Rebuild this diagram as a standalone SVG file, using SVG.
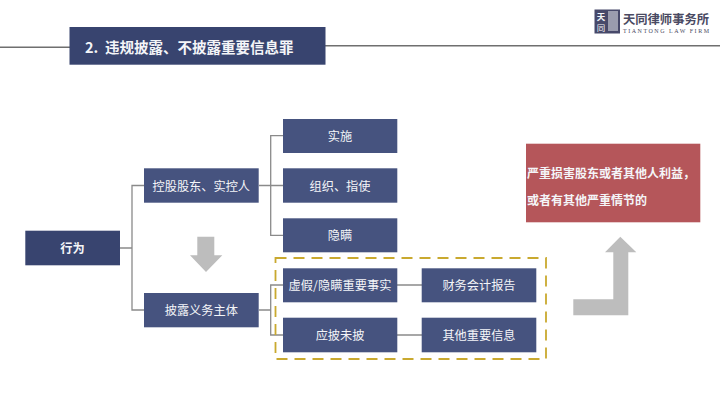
<svg xmlns="http://www.w3.org/2000/svg" width="720" height="405" viewBox="0 0 720 405">
<style>
text{font-family:"Noto Sans CJK SC","Noto Sans",sans-serif;fill:#f4f5f8;text-anchor:middle;dominant-baseline:central}
.n{fill:#46537f}
.d{fill:#38446f}
.t{font-size:12.2px}
.c{fill:none;stroke:#8a8a8a;stroke-width:1.3}
.a{fill:#bdbdbd}
</style>
<rect width="720" height="405" fill="#fff"/>
<path d="M0 47.2H70M325 45.8H720" fill="none" stroke="#6f6f6f" stroke-width="1.5"/>
<g id="title"><rect class="d" x="69.5" y="27" width="256" height="37.7"/>
<text x="85" y="46" font-size="14.5" font-weight="700" style="text-anchor:start">2.</text>
<text x="105" y="46" font-size="14.5" font-weight="700" style="text-anchor:start">违规披露、不披露重要信息罪</text></g>
<g id="logo"><rect x="594.5" y="9.5" width="25.5" height="24" fill="#47496a"/>
<text x="601" y="15.5" font-size="8.5" font-weight="700">天</text>
<text x="601" y="26.5" font-size="8.5">同</text>
<path d="M608 11h10v20h-10z" fill="#9a9cae"/>
<text x="666" y="18.5" font-size="12.3" font-weight="700" style="fill:#4a4a62;font-family:'Noto Sans CJK SC',serif">天同律师事务所</text>
<text x="666" y="30.5" font-size="6" textLength="86" style="fill:#4a4a62;font-family:'Liberation Serif',serif">TIANTONG LAW FIRM</text></g>
<g id="connectors">
<path class="c" d="M120 248H132M144 185.5H132V310H144"/>
<path class="c" d="M259 185.5H283M283 135.7H270.7V235.3H283"/>
<path class="c" d="M259 310H270.7M283 285H270.7V335H283"/>
<path class="c" d="M397 285H422M397 335H422"/>
</g>
<g id="arrow-down"><path class="a" d="M197.3 236.7H214.3V255.3H222.3L206 272L190 255.3H197.3Z"/></g>
<g id="arrow-up"><path class="a" d="M620.3 236.7L636.3 252.3H628.3V315.3H573.3V299.3H613.3V252.3H605Z"/></g>
<g id="dashed-frame"><rect x="275.5" y="258" width="270.5" height="101" fill="none" stroke="#c9a92f" stroke-width="1.8" stroke-dasharray="11 7"/></g>
<g id="n1"><rect class="d" x="25.3" y="230.7" width="94.7" height="34.6"/><text x="72.5" y="247.5" font-size="12.2" font-weight="700">行为</text></g>
<g id="n2"><rect class="n" x="144" y="168.3" width="114.7" height="34.4"/><text class="t" x="201.3" y="185.5">控股股东、实控人</text></g>
<g id="n3"><rect class="n" x="144" y="293" width="114.7" height="34.3"/><text class="t" x="201.3" y="310">披露义务主体</text></g>
<g id="n4"><rect class="n" x="283" y="119" width="114.3" height="34"/><text class="t" x="340" y="136">实施</text></g>
<g id="n5"><rect class="n" x="283" y="168.3" width="114.3" height="34.4"/><text class="t" x="340" y="185.5">组织、指使</text></g>
<g id="n6"><rect class="n" x="283" y="218.3" width="114.3" height="34"/><text class="t" x="340" y="235">隐瞒</text></g>
<g id="n7"><rect class="n" x="283" y="268.3" width="114.3" height="34"/><text class="t" x="340" y="285" textLength="103">虚假/隐瞒重要事实</text></g>
<g id="n8"><rect class="n" x="283" y="317.7" width="114.3" height="34.6"/><text class="t" x="340" y="335">应披未披</text></g>
<g id="n9"><rect class="n" x="421.7" y="268.3" width="114.6" height="34"/><text class="t" x="479" y="285">财务会计报告</text></g>
<g id="n10"><rect class="n" x="421.7" y="317.7" width="114.6" height="34.6"/><text class="t" x="479" y="335">其他重要信息</text></g>
<g id="n11"><rect x="526" y="143.7" width="174.3" height="78.6" fill="#b5565a"/>
<text x="527" y="172.5" font-size="12" font-weight="700" style="text-anchor:start">严重损害股东或者其他人利益，</text>
<text x="527" y="199" font-size="12" font-weight="700" style="text-anchor:start">或者有其他严重情节的</text></g>
</svg>
